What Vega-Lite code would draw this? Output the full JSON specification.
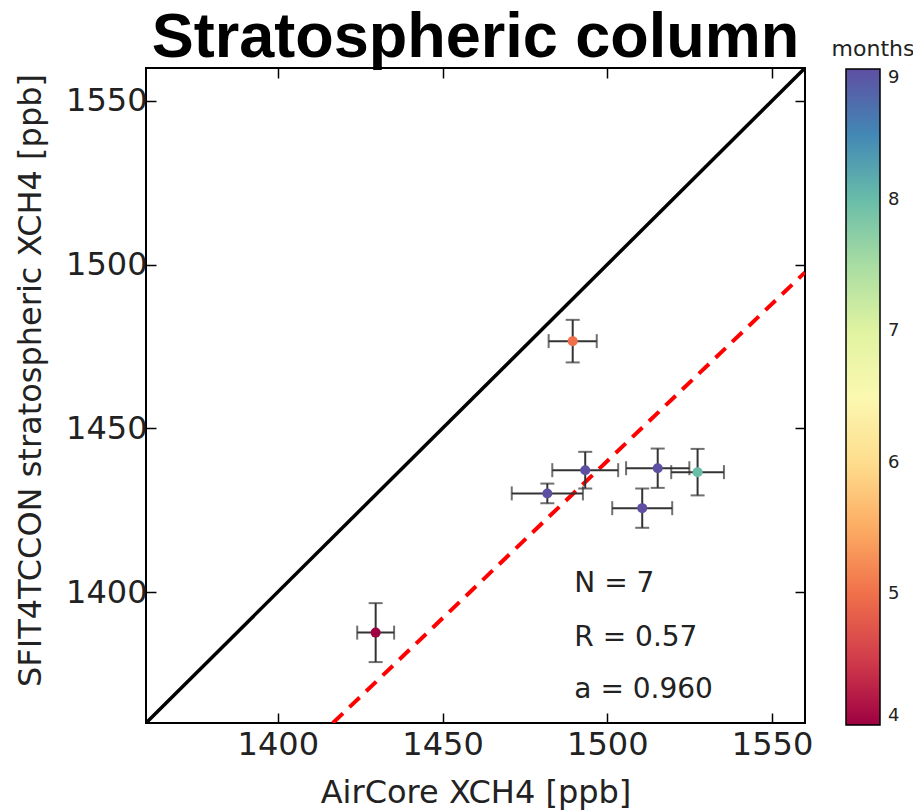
{
  "$schema": "https://vega.github.io/schema/vega-lite/v6.json",
  "autosize": {"type": "none"},
  "padding": {"left": 146, "top": 68, "right": 108, "bottom": 89},
  "width": 659,
  "height": 655,
  "title": {
    "text": "Stratospheric column",
    "font": "Liberation Sans",
    "fontWeight": "bold",
    "fontSize": 63,
    "color": "black",
    "anchor": "middle",
    "frame": "group",
    "dy": 35
  },
  "config": {
    "view": {"stroke": "black", "strokeWidth": 2},
    "axis": {
      "grid": false,
      "domain": false,
      "format": "d",
      "labelFont": "DejaVu Sans",
      "labelFontSize": 32,
      "labelColor": "#222",
      "titleFont": "DejaVu Sans",
      "titleFontSize": 32,
      "titleFontWeight": "normal",
      "titleColor": "#222",
      "tickSize": -10,
      "tickColor": "black",
      "tickWidth": 1.5
    }
  },
  "datasets": {
    "points": [
      {"x": 1489.5, "xlo": 1482.2, "xhi": 1496.8, "y": 1476.6, "ylo": 1470.1, "yhi": 1483.1, "month": 5},
      {"x": 1493.3, "xlo": 1483.3, "xhi": 1503.3, "y": 1437.2, "ylo": 1431.6, "yhi": 1442.8, "month": 9},
      {"x": 1481.8, "xlo": 1471.0, "xhi": 1492.6, "y": 1430.1, "ylo": 1427.1, "yhi": 1433.1, "month": 9},
      {"x": 1515.3, "xlo": 1505.7, "xhi": 1524.9, "y": 1437.8, "ylo": 1431.8, "yhi": 1443.8, "month": 9},
      {"x": 1527.4, "xlo": 1519.4, "xhi": 1535.4, "y": 1436.6, "ylo": 1429.5, "yhi": 1443.7, "month": 8},
      {"x": 1510.6, "xlo": 1501.5, "xhi": 1519.7, "y": 1425.6, "ylo": 1419.6, "yhi": 1431.6, "month": 9},
      {"x": 1429.7, "xlo": 1424.1, "xhi": 1435.3, "y": 1387.6, "ylo": 1378.6, "yhi": 1396.6, "month": 4}
    ],
    "oneToOne": [
      {"x": 1360, "y": 1360},
      {"x": 1560, "y": 1560}
    ],
    "fit": [
      {"x": 1416.7, "y": 1360},
      {"x": 1560, "y": 1497.6}
    ],
    "stats": [
      {"x": 1490, "y": 1400, "label": "N = 7"},
      {"x": 1490, "y": 1383.5, "label": "R = 0.57"},
      {"x": 1490, "y": 1367.6, "label": "a = 0.960"}
    ]
  },
  "resolve": {"axis": {"x": "independent", "y": "independent"}},
  "layer": [
    {
      "data": {"name": "oneToOne"},
      "mark": {"type": "line", "color": "black", "strokeWidth": 3.5, "clip": true},
      "encoding": {
        "x": {"field": "x", "type": "quantitative", "scale": {"domain": [1360, 1560], "nice": false, "zero": false},
              "axis": {"orient": "bottom", "values": [1400, 1450, 1500, 1550], "title": "AirCore XCH4 [ppb]", "labelPadding": 16, "titlePadding": 17}},
        "y": {"field": "y", "type": "quantitative", "scale": {"domain": [1360, 1560], "nice": false, "zero": false},
              "axis": {"orient": "left", "values": [1400, 1450, 1500, 1550], "title": "SFIT4TCCON stratospheric XCH4 [ppb]", "labelPadding": 9, "titlePadding": 18, "titleY": 312}}
      }
    },
    {
      "data": {"name": "fit"},
      "mark": {"type": "line", "color": "#ff0000", "strokeWidth": 4, "strokeDash": [14, 9], "clip": true},
      "encoding": {
        "x": {"field": "x", "type": "quantitative", "axis": {"orient": "top", "values": [1400, 1450, 1500, 1550], "labels": false, "title": null}},
        "y": {"field": "y", "type": "quantitative", "axis": {"orient": "right", "values": [1400, 1450, 1500, 1550], "labels": false, "title": null}}
      }
    },
    {
      "data": {"name": "points"},
      "layer": [
        {
          "mark": {"type": "rule", "color": "#333", "strokeWidth": 2},
          "encoding": {
            "x": {"field": "xlo", "type": "quantitative", "axis": null},
            "x2": {"field": "xhi"},
            "y": {"field": "y", "type": "quantitative", "axis": null}
          }
        },
        {
          "mark": {"type": "rule", "color": "#333", "strokeWidth": 2},
          "encoding": {
            "x": {"field": "x", "type": "quantitative", "axis": null},
            "y": {"field": "ylo", "type": "quantitative", "axis": null},
            "y2": {"field": "yhi"}
          }
        },
        {
          "mark": {"type": "tick", "color": "#333", "orient": "vertical", "size": 14, "thickness": 2},
          "encoding": {
            "x": {"field": "xlo", "type": "quantitative", "axis": null},
            "y": {"field": "y", "type": "quantitative", "axis": null}
          }
        },
        {
          "mark": {"type": "tick", "color": "#333", "orient": "vertical", "size": 14, "thickness": 2},
          "encoding": {
            "x": {"field": "xhi", "type": "quantitative", "axis": null},
            "y": {"field": "y", "type": "quantitative", "axis": null}
          }
        },
        {
          "mark": {"type": "tick", "color": "#333", "orient": "horizontal", "size": 14, "thickness": 2},
          "encoding": {
            "x": {"field": "x", "type": "quantitative", "axis": null},
            "y": {"field": "ylo", "type": "quantitative", "axis": null}
          }
        },
        {
          "mark": {"type": "tick", "color": "#333", "orient": "horizontal", "size": 14, "thickness": 2},
          "encoding": {
            "x": {"field": "x", "type": "quantitative", "axis": null},
            "y": {"field": "yhi", "type": "quantitative", "axis": null}
          }
        },
        {
          "mark": {"type": "circle", "size": 100, "opacity": 1},
          "encoding": {
            "x": {"field": "x", "type": "quantitative", "axis": null},
            "y": {"field": "y", "type": "quantitative", "axis": null},
            "color": {
              "field": "month", "type": "quantitative",
              "scale": {"scheme": "spectral", "domain": [4, 9]},
              "legend": {
                "orient": "none",
                "legendX": 686,
                "legendY": -29,
                "padding": 0,
                "title": "months",
                "titleFont": "DejaVu Sans",
                "titleFontSize": 22,
                "titleFontWeight": "normal",
                "titleColor": "#222",
                "titleAnchor": "middle",
                "titleAlign": "center",
                "titlePadding": 8,
                "gradientLength": 656,
                "gradientThickness": 34,
                "gradientStrokeColor": "black",
                "gradientStrokeWidth": 1.5,
                "values": [4, 5, 6, 7, 8, 9],
                "format": "d",
                "labelFont": "DejaVu Sans",
                "labelFontSize": 18,
                "labelColor": "#222",
                "labelOffset": 8,
                "labelBaseline": "middle",
                "labelOverlap": false
              }
            }
          }
        }
      ]
    },
    {
      "data": {"name": "stats"},
      "mark": {"type": "text", "font": "DejaVu Sans", "fontSize": 28, "color": "#222", "align": "left", "baseline": "alphabetic"},
      "encoding": {
        "x": {"field": "x", "type": "quantitative", "axis": null},
        "y": {"field": "y", "type": "quantitative", "axis": null},
        "text": {"field": "label"}
      }
    }
  ]
}
